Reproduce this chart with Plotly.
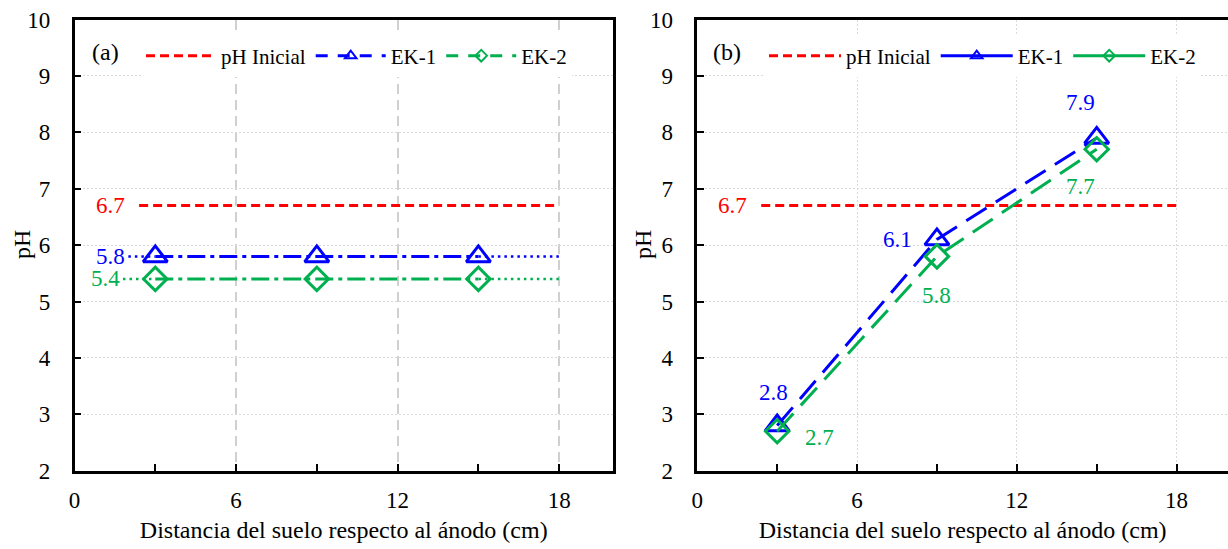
import plotly.graph_objects as go

# ---------------- data ----------------
distance = [3, 9, 15]                 # cm from anode
ph_initial = 6.7
ph_initial_x = [2.4, 18]              # extent of the initial-pH reference line

# panel (a)
ek1_a = [5.8, 5.8, 5.8]
ek2_a = [5.4, 5.4, 5.4]
ek1_a_ext_x = [2.0, 3, None, 15, 18]  # dotted extensions
ek2_a_ext_x = [1.8, 3, None, 15, 18]

# panel (b)
ek1_b = [2.8, 6.1, 7.9]
ek2_b = [2.7, 5.8, 7.7]

x_ticks = [0, 6, 12, 18]
y_ticks = [2, 3, 4, 5, 6, 7, 8, 9, 10]

# ---------------- style ----------------
RED = "#ff0000"
BLUE = "#0000ff"
GREEN = "#00b050"
FONT = "Liberation Serif"
W, H = 1228, 549

def px_x(p):
    return p / W

def px_y(p):
    return (H - p) / H

fig = go.Figure()

TRI = dict(symbol="triangle-up-open", size=21, color=BLUE, line=dict(width=3, color=BLUE))
DIA = dict(symbol="diamond-open", size=18, color=GREEN, line=dict(width=3, color=GREEN))

# ---------- panel (a) ----------
fig.add_trace(go.Scatter(x=ph_initial_x, y=[ph_initial] * 2, mode="lines",
                         line=dict(color=RED, width=3, dash="9px,5px"),
                         name="pH Inicial", legend="legend", xaxis="x", yaxis="y"))
fig.add_trace(go.Scatter(x=ek1_a_ext_x, y=[ek1_a[0], ek1_a[0], None, ek1_a[-1], ek1_a[-1]],
                         mode="lines", line=dict(color=BLUE, width=2.5, dash="2.5px,4px"),
                         showlegend=False, xaxis="x", yaxis="y", connectgaps=False))
fig.add_trace(go.Scatter(x=ek2_a_ext_x, y=[ek2_a[0], ek2_a[0], None, ek2_a[-1], ek2_a[-1]],
                         mode="lines", line=dict(color=GREEN, width=2.5, dash="2.5px,4px"),
                         showlegend=False, xaxis="x", yaxis="y", connectgaps=False))
fig.add_trace(go.Scatter(x=distance, y=ek1_a, mode="lines+markers",
                         line=dict(color=BLUE, width=3, dash="18px,5px,4px,5px"),
                         marker=TRI, showlegend=False, xaxis="x", yaxis="y"))
fig.add_trace(go.Scatter(x=distance, y=ek2_a, mode="lines+markers",
                         line=dict(color=GREEN, width=3, dash="18px,5px,4px,5px"),
                         marker=DIA, showlegend=False, xaxis="x", yaxis="y"))
# legend-only entries for (a)
fig.add_trace(go.Scatter(x=[None], y=[None], mode="lines+markers", name="EK-1",
                         line=dict(color=BLUE, width=3, dash="12px,10px"),
                         marker=dict(symbol="triangle-up-open", size=10, color=BLUE,
                                     line=dict(width=2, color=BLUE)),
                         legend="legend", xaxis="x", yaxis="y"))
fig.add_trace(go.Scatter(x=[None], y=[None], mode="lines+markers", name="EK-2",
                         line=dict(color=GREEN, width=3, dash="12px,10px"),
                         marker=dict(symbol="diamond-open", size=9, color=GREEN,
                                     line=dict(width=2, color=GREEN)),
                         legend="legend", xaxis="x", yaxis="y"))

# ---------- panel (b) ----------
fig.add_trace(go.Scatter(x=ph_initial_x, y=[ph_initial] * 2, mode="lines",
                         line=dict(color=RED, width=3, dash="9px,5px"),
                         name="pH Inicial", legend="legend2", xaxis="x2", yaxis="y2"))
fig.add_trace(go.Scatter(x=distance, y=ek1_b, mode="lines+markers",
                         line=dict(color=BLUE, width=3, dash="24px,11px"),
                         marker=TRI, showlegend=False, xaxis="x2", yaxis="y2"))
fig.add_trace(go.Scatter(x=distance, y=ek2_b, mode="lines+markers",
                         line=dict(color=GREEN, width=3, dash="24px,11px"),
                         marker=DIA, showlegend=False, xaxis="x2", yaxis="y2"))
fig.add_trace(go.Scatter(x=[None], y=[None], mode="lines+markers", name="EK-1",
                         line=dict(color=BLUE, width=3),
                         marker=dict(symbol="triangle-up-open", size=10, color=BLUE,
                                     line=dict(width=2, color=BLUE)),
                         legend="legend2", xaxis="x2", yaxis="y2"))
fig.add_trace(go.Scatter(x=[None], y=[None], mode="lines+markers", name="EK-2",
                         line=dict(color=GREEN, width=3),
                         marker=dict(symbol="diamond-open", size=9, color=GREEN,
                                     line=dict(width=2, color=GREEN)),
                         legend="legend2", xaxis="x2", yaxis="y2"))

# ---------- annotations (value labels) ----------
ann = []
LABEL_SIZE = 23

def lab(x, y, val, color, xref, yref, xshift=0, yshift=0, xanchor="center"):
    ann.append(dict(x=x, y=y, xref=xref, yref=yref, text=f"{val:.1f}", showarrow=False,
                    font=dict(family=FONT, size=LABEL_SIZE, color=color),
                    xanchor=xanchor, yanchor="middle", xshift=xshift, yshift=yshift))

lab(ph_initial_x[0], ph_initial, ph_initial, RED, "x", "y", xshift=-12, xanchor="right")
lab(ek1_a_ext_x[0], ek1_a[0], ek1_a[0], BLUE, "x", "y", xshift=-1, xanchor="right")
lab(ek2_a_ext_x[0], ek2_a[0], ek2_a[0], GREEN, "x", "y", xshift=-1, xanchor="right")

lab(ph_initial_x[0], ph_initial, ph_initial, RED, "x2", "y2", xshift=-12, xanchor="right")
ek1_b_off = [(-4, 33), (-39, 0), (-16, 35)]
ek2_b_off = [(42, -6), (0, -39), (-16, -37)]
for xv, yv, (dx, dy) in zip(distance, ek1_b, ek1_b_off):
    lab(xv, yv, yv, BLUE, "x2", "y2", xshift=dx, yshift=dy)
for xv, yv, (dx, dy) in zip(distance, ek2_b, ek2_b_off):
    lab(xv, yv, yv, GREEN, "x2", "y2", xshift=dx, yshift=dy)

ann.append(dict(x=0.058, y=0.928, xref="x domain", yref="y domain", text="(a)",
                showarrow=False, font=dict(family=FONT, size=24, color="black"),
                xanchor="center", yanchor="middle"))
ann.append(dict(x=0.056, y=0.928, xref="x2 domain", yref="y2 domain", text="(b)",
                showarrow=False, font=dict(family=FONT, size=24, color="black"),
                xanchor="center", yanchor="middle"))

# y-axis titles as rotated annotations (placed closer to the tick labels)
for xp in (22, 643):
    ann.append(dict(x=px_x(xp), y=px_y(245), xref="paper", yref="paper", text="pH",
                    textangle=-90, showarrow=False,
                    font=dict(family=FONT, size=24, color="black"),
                    xanchor="center", yanchor="middle"))

# ---------- axes ----------
tickfont = dict(family=FONT, size=23, color="black")
titlefont = dict(family=FONT, size=24, color="black")

def xaxis_cfg(domain, rng, griddash, gridcolor, gridwidth, mirror):
    return dict(domain=domain, range=rng, tickvals=x_ticks, showline=True, linecolor="black",
                linewidth=2.5, mirror=mirror, ticks="inside", ticklen=7, tickwidth=2,
                tickcolor="black", minor=dict(dtick=3, tick0=0, ticks="inside", ticklen=7,
                                              tickwidth=2, tickcolor="black", showgrid=False),
                showgrid=True, gridcolor=gridcolor, gridwidth=gridwidth, griddash=griddash,
                zeroline=False, tickfont=tickfont, ticklabelstandoff=7, automargin=False,
                title=dict(text="Distancia del suelo respecto al ánodo (cm)", font=titlefont,
                           standoff=10),
                fixedrange=True)

def yaxis_cfg(domain, anchor, mirror):
    return dict(domain=domain, range=[2, 10], tickvals=y_ticks, showline=True, linecolor="black",
                linewidth=2.5, mirror=mirror, ticks="inside", ticklen=7, tickwidth=2,
                tickcolor="black", showgrid=True, gridcolor="#d9d9d9", gridwidth=1,
                griddash="2px,2px", zeroline=False, tickfont=tickfont, ticklabelstandoff=17,
                automargin=False, anchor=anchor, fixedrange=True)

ydom = [px_y(470.7), px_y(19.5)]
fig.update_layout(
    width=W, height=H,
    margin=dict(l=0, r=0, t=0, b=0),
    paper_bgcolor="white", plot_bgcolor="white",
    font=dict(family=FONT, color="black"),
    xaxis=xaxis_cfg([px_x(74.5), px_x(613)], [0, 20], "10px,6px", "#d0d0d0", 2, True),
    yaxis=yaxis_cfg(ydom, "x", True),
    xaxis2=dict(xaxis_cfg([px_x(697.3), 1.0], [0, 19.93], "2px,2px", "#d9d9d9", 1, True),
                anchor="y2"),
    yaxis2=yaxis_cfg(ydom, "x2", False),
    legend=dict(orientation="h", x=px_x(141), y=px_y(56), xanchor="left", yanchor="middle",
                bgcolor="white", font=dict(family=FONT, size=21, color="black"),
                itemwidth=70, borderwidth=0, tracegroupgap=0),
    legend2=dict(orientation="h", x=px_x(764), y=px_y(56), xanchor="left", yanchor="middle",
                 bgcolor="white", font=dict(family=FONT, size=21, color="black"),
                 itemwidth=72, borderwidth=0, tracegroupgap=0),
    annotations=ann,
    showlegend=True,
)

fig.write_html("out.html", config={"displayModeBar": False},
               post_script="document.body.style.margin='0';document.body.style.padding='0';"
                           "document.body.style.overflow='hidden';")
